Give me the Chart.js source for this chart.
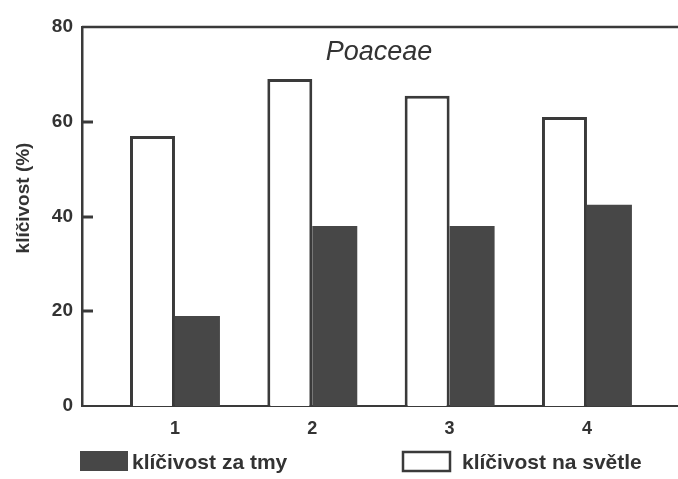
<!DOCTYPE html>
<html>
<head>
<meta charset="utf-8">
<script src="https://cdn.jsdelivr.net/npm/chart.js@4"></script>
<style>
html, body { margin: 0; background: #fff; }
#wrap { width: 678px; height: 479px; }
</style>
</head>
<body>
<div id="wrap"><canvas id="chart"></canvas></div>
<script>
// klíčivost semen (%), čtyři varianty
const categories = [1, 2, 3, 4]
const naSvetle = [57, 69, 65.5, 61]
const zaTmy = [19, 38, 38, 42.5]
const yTicks = [0, 20, 40, 60, 80]

const ink = '#3a3a3a'
const dark = '#474747'
const font = '"Liberation Sans", Arial, sans-serif'

// rámeček nahoře, vnitřní značky na ose y, popisky a legenda dole
const decor = {
    id: 'decor',
    afterDraw(chart) {
        const { ctx, chartArea: a, scales: { y } } = chart
        ctx.save()
        ctx.strokeStyle = ink
        ctx.lineWidth = 2.5
        ctx.beginPath()
        ctx.moveTo(a.left, a.top)
        ctx.lineTo(a.right, a.top)
        ctx.stroke()
        ctx.lineWidth = 3
        yTicks.slice(1, -1).forEach(v => {
            const py = Math.round(y.getPixelForValue(v))
            ctx.beginPath()
            ctx.moveTo(a.left, py)
            ctx.lineTo(a.left + 11, py)
            ctx.stroke()
        })

        ctx.fillStyle = '#333'
        ctx.font = 'italic 27px ' + font
        ctx.textAlign = 'center'
        ctx.textBaseline = 'middle'
        ctx.fillText('Poaceae', 379, a.top + 25)

        // popis osy y
        ctx.save()
        ctx.translate(24, 198)
        ctx.rotate(-Math.PI / 2)
        ctx.font = 'bold 19px ' + font
        ctx.fillText('klíčivost (%)', 0, 0)
        ctx.restore()

        // legenda: tma vlevo, světlo vpravo
        const items = [chart.data.datasets[1], chart.data.datasets[0]]
        const xs = [80, 402]
        const gaps = [52, 60]
        ctx.font = 'bold 21px ' + font
        ctx.textAlign = 'left'
        items.forEach((ds, i) => {
            const bx = xs[i], by = 451
            ctx.fillStyle = ds.backgroundColor
            ctx.fillRect(bx, by, 48, 20)
            if (ds.borderWidth) {
                ctx.lineWidth = 2.5
                ctx.strokeStyle = ds.borderColor
                ctx.strokeRect(bx + 1, by + 1, 47, 19)
            }
            ctx.fillStyle = '#333'
            ctx.fillText(ds.label, bx + gaps[i], by + 12)
        })
        ctx.restore()
    }
}

new Chart(document.getElementById('chart'), {
    type: 'bar',
    data: {
        datasets: [{
            label: 'klíčivost na světle',
            data: categories.map((c, i) => ({ x: c, y: naSvetle[i] })),
            backgroundColor: '#ffffff',
            borderColor: ink,
            borderWidth: 3
        }, {
            label: 'klíčivost za tmy',
            data: categories.map((c, i) => ({ x: c, y: zaTmy[i] })),
            backgroundColor: dark,
            borderWidth: 0
        }]
    },
    options: {
        responsive: true,
        maintainAspectRatio: false,
        animation: false,
        devicePixelRatio: 1,
        categoryPercentage: 0.655,
        barPercentage: 1,
        layout: { padding: { top: 27, right: 0, bottom: 33, left: 0 } },
        plugins: {
            legend: { display: false },
            tooltip: { enabled: false }
        },
        scales: {
            x: {
                type: 'linear',
                offset: false,
                min: 0.323,
                max: 4.663,
                afterBuildTicks: s => { s.ticks = categories.map(v => ({ value: v })) },
                afterFit: s => { s.height = 40 },
                grid: { display: false, drawTicks: false },
                border: { display: true, color: ink, width: 2 },
                ticks: { padding: 12, color: '#333', font: { family: font, size: 18, weight: 'bold' } }
            },
            y: {
                min: 0,
                max: 80,
                afterBuildTicks: s => { s.ticks = yTicks.map(v => ({ value: v })) },
                afterFit: s => { s.width = 82 },
                grid: { display: false, drawTicks: false },
                border: { display: true, color: ink, width: 2.5 },
                ticks: { padding: 9, color: '#333', font: { family: font, size: 19, weight: 'bold' } }
            }
        }
    },
    plugins: [decor]
})
</script>
</body>
</html>
